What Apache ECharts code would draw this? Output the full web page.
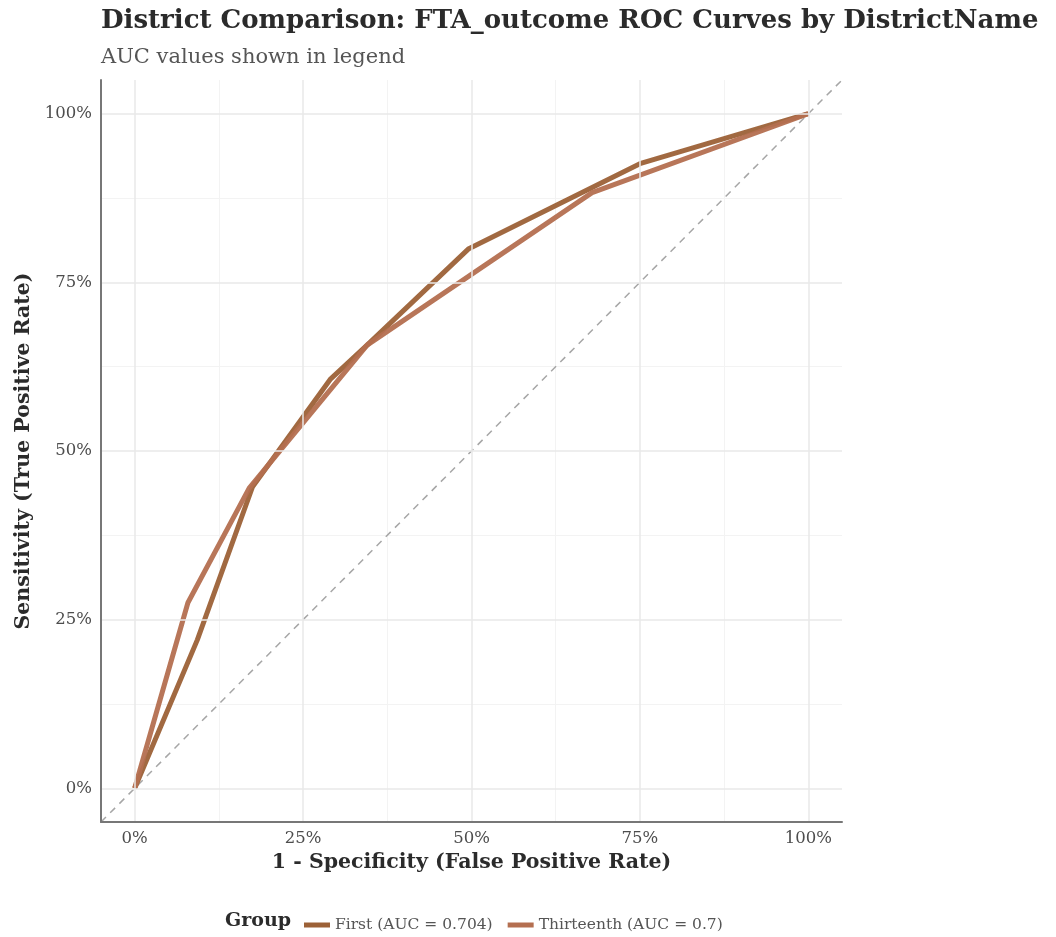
<!DOCTYPE html>
<html>
<head>
<meta charset="utf-8">
<script src="https://cdn.jsdelivr.net/npm/echarts@6/dist/echarts.min.js"></script>
<style>
  html, body { margin: 0; padding: 0; background: #fff; }
  #chart { width: 1056px; height: 937px; }
</style>
</head>
<body>
<div id="chart"></div>
<script>
// ROC points: [1 - specificity, sensitivity]
const firstRoc = [[0, 0], [0.093, 0.22], [0.175, 0.447], [0.291, 0.607], [0.345, 0.657], [0.496, 0.80], [0.75, 0.926], [1, 1]]
const thirteenthRoc = [[0, 0], [0.079, 0.275], [0.17, 0.445], [0.345, 0.657], [0.679, 0.883], [1, 1]]
const seriesNames = ['First (AUC = 0.704)', 'Thirteenth (AUC = 0.7)']
const majorTicks = [0, 0.25, 0.5, 0.75, 1]
const minorTicks = [0.125, 0.375, 0.625, 0.875]
const axisMin = -0.05
const axisMax = 1.05
const refLine = [[axisMin, axisMin], [axisMax, axisMax]]

const serif = '"DejaVu Serif", serif'
const pct = v => Math.round(v * 100) + '%'

const chart = echarts.init(document.getElementById('chart'))

const minorAxis = {
  type: 'value', min: axisMin, max: axisMax,
  axisLine: { show: false }, axisLabel: { show: false },
  axisTick: { show: false, customValues: minorTicks },
  splitLine: { show: true, lineStyle: { color: '#f3f3f3', width: 1 } }
}

const option = {
  animation: false,
  title: [
    {
      text: 'District Comparison: FTA_outcome ROC Curves by DistrictName',
      left: 96, top: 3,
      textStyle: { fontFamily: serif, fontWeight: 'bold', fontSize: 26, color: '#2b2b2b' }
    },
    {
      text: 'AUC values shown in legend',
      left: 96, top: 42,
      textStyle: { fontFamily: serif, fontWeight: 'normal', fontSize: 21, color: '#555' }
    },
    {
      text: 'Group',
      left: 220, top: 907,
      textStyle: { fontFamily: serif, fontWeight: 'bold', fontSize: 19, color: '#2b2b2b' }
    }
  ],
  legend: {
    data: seriesNames,
    left: 299, top: 912,
    icon: 'rect', itemWidth: 26, itemHeight: 5, itemGap: 15,
    textStyle: { fontFamily: serif, fontSize: 15.5, color: '#555' }
  },
  grid: { left: 101, right: 214, top: 80, bottom: 115 },
  xAxis: [
    {
      type: 'value', min: axisMin, max: axisMax,
      name: '1 - Specificity (False Positive Rate)',
      nameLocation: 'middle', nameGap: 28,
      nameTextStyle: { fontFamily: serif, fontWeight: 'bold', fontSize: 20.5, color: '#2b2b2b' },
      axisLine: { show: true, onZero: false, lineStyle: { color: '#777', width: 2 } },
      axisTick: { show: false, customValues: majorTicks },
      axisLabel: {
        customValues: majorTicks, formatter: pct, margin: 8,
        fontFamily: serif, fontSize: 16.5, color: '#4d4d4d'
      },
      splitLine: { show: true, lineStyle: { color: '#e8e8e8', width: 1.5 } },
      z: 3
    },
    Object.assign({}, minorAxis)
  ],
  yAxis: [
    {
      type: 'value', min: axisMin, max: axisMax,
      name: 'Sensitivity (True Positive Rate)',
      nameLocation: 'middle', nameGap: 60,
      nameTextStyle: { fontFamily: serif, fontWeight: 'bold', fontSize: 20.5, color: '#2b2b2b' },
      axisLine: { show: true, onZero: false, lineStyle: { color: '#777', width: 2 } },
      axisTick: { show: false, customValues: majorTicks },
      axisLabel: {
        customValues: majorTicks, formatter: pct, margin: 9,
        fontFamily: serif, fontSize: 16.5, color: '#4d4d4d'
      },
      splitLine: { show: true, lineStyle: { color: '#e8e8e8', width: 1.5 } },
      z: 3
    },
    Object.assign({}, minorAxis)
  ],
  series: [
    {
      type: 'line', data: refLine, silent: true,
      showSymbol: false, symbol: 'none',
      lineStyle: { color: '#a6a6a6', width: 1.5, type: [7, 6] },
      z: 1
    },
    {
      name: seriesNames[0], type: 'line', data: firstRoc,
      symbol: 'none', color: '#9c6137',
      lineStyle: { color: '#9c6137', width: 5, opacity: 0.95 },
      z: 2
    },
    {
      name: seriesNames[1], type: 'line', data: thirteenthRoc,
      symbol: 'none', color: '#b46f50',
      lineStyle: { color: '#b46f50', width: 5, opacity: 0.95 },
      z: 2
    }
  ]
}

chart.setOption(option)
</script>
</body>
</html>
